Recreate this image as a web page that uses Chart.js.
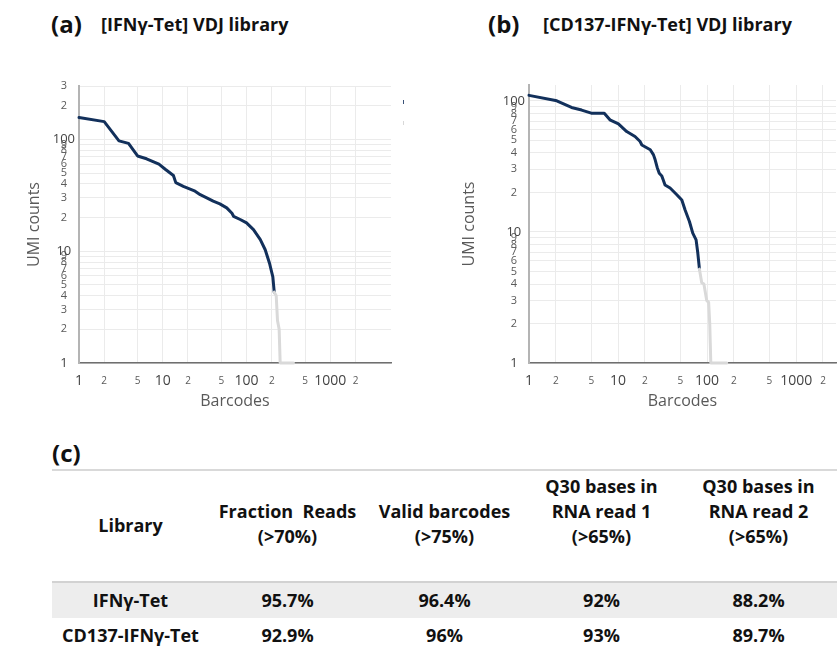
<!DOCTYPE html>
<html>
<head>
<meta charset="utf-8">
<script src="https://cdn.jsdelivr.net/npm/chart.js@4/dist/chart.umd.min.js"></script>
<style>
  html, body { margin: 0; padding: 0; background: #fff; }
  body { width: 837px; height: 650px; position: relative; overflow: hidden; font-family: "Open Sans", sans-serif; color: #111; }
  .panel-tag { position: absolute; font-weight: 700; font-size: 24px; line-height: 26px; }
  .panel-title { position: absolute; font-weight: 700; font-size: 18px; line-height: 26px; }
  canvas { position: absolute; top: 0; }
  #chartA { left: 0; }
  #chartB { left: 440px; }
  .key { position: absolute; width: 1px; height: 4px; }
  #qc { position: absolute; left: 52px; top: 469px; width: 785px; border-collapse: separate; border-spacing: 0; table-layout: fixed; font-weight: 700; font-size: 18px; }
  #qc th, #qc td { text-align: center; padding: 0; box-sizing: border-box; }
  #qc th { height: 114px; vertical-align: bottom; line-height: 25px; padding-bottom: 32px; font-weight: 700;
           border-top: 2px solid #d9d9d9; border-bottom: 2px solid #d2d2d2; }
  #qc th.single { padding-bottom: 43px; }
  #qc td { height: 35px; line-height: 35px; }
  #qc tbody tr:first-child td { background: #ededed; }
</style>
</head>
<body>
<div class="panel-tag" style="left:51px; top:11px;">(a)</div>
<div class="panel-title" style="left:101px; top:11px;">[IFNγ-Tet] VDJ library</div>
<div class="panel-tag" style="left:488px; top:11px;">(b)</div>
<div class="panel-title" style="left:543px; top:11px;">[CD137-IFNγ-Tet] VDJ library</div>

<canvas id="chartA" width="420" height="420"></canvas>
<canvas id="chartB" width="397" height="420"></canvas>
<div class="key" style="left:403px; top:100px; background:#3a5278;"></div>
<div class="key" style="left:403px; top:121px; background:#d8d8d8;"></div>

<div class="panel-tag" style="left:52px; top:440px;">(c)</div>
<table id="qc"><thead></thead><tbody></tbody></table>

<script>
// Barcode rank curves: barcodes (x, ranked) vs UMI counts (y).
// Cell-associated barcodes (dark) and background barcodes (grey tail).
const barcodesA = [1, 2, 3, 3.9, 5, 6.4, 9, 10.7, 13.4, 14.3, 17.6, 24.3, 28, 33.5, 40, 48, 58, 67, 70, 84, 100, 121, 146, 167, 188, 206, 214];
const umiA      = [157, 144, 97, 92, 71, 67, 60, 54, 47.5, 41, 38, 34.4, 32, 30, 28, 26.5, 24.4, 21.8, 20.5, 19.2, 17.9, 15.6, 12.7, 10.3, 7.8, 5.9, 4.3];
const tailBarcodesA = [214, 226, 234, 245, 252, 363];
const tailUmiA      = [4.3, 4, 2.4, 2, 1, 1];

const barcodesB = [1, 2.05, 3, 3.9, 5, 7, 8.1, 10.1, 12.5, 15.5, 17.7, 18.5, 23, 25, 26.1, 27.5, 29, 31, 33.7, 38.4, 45.7, 52, 56.6, 63.3, 69, 75.2, 78.6, 82];
const umiB      = [110, 100, 89, 85, 80.5, 80.5, 71.6, 66.7, 58.3, 53.4, 48.9, 46, 42.3, 38.7, 35.5, 31, 28, 26.7, 22.8, 21.6, 19.2, 17.5, 14.7, 12, 9.8, 8.7, 6.9, 5.2];
const tailBarcodesB = [82, 87, 92, 99, 104, 107, 110, 166];
const tailUmiB      = [5.2, 4.1, 4, 3, 2.9, 2, 1, 1];

// Axis ticks
const barcodeTicks = [1, 2, 5, 10, 20, 50, 100, 200, 500, 1000, 2000];
const umiTicksA = [1, 2, 3, 4, 5, 6, 7, 8, 9, 10, 20, 30, 40, 50, 60, 70, 80, 90, 100, 200, 300];
const umiTicksB = [1, 2, 3, 4, 5, 6, 7, 8, 9, 10, 20, 30, 40, 50, 60, 70, 80, 90, 100];

// QC metrics table
const qcHeaders = ['Library', 'Fraction\u00a0 Reads\n(>70%)', 'Valid barcodes\n(>75%)', 'Q30 bases in\nRNA read 1\n(>65%)', 'Q30 bases in\nRNA read 2\n(>65%)'];
const libraries = ['IFNγ-Tet', 'CD137-IFNγ-Tet'];
const fractionReads = ['95.7%', '92.9%'];
const validBarcodes = ['96.4%', '96%'];
const q30Read1 = ['92%', '93%'];
const q30Read2 = ['88.2%', '89.7%'];

const isPow10 = v => Math.abs(Math.log10(v) - Math.round(Math.log10(v))) < 1e-9;
const tickText = v => isPow10(v) ? String(v) : String(Math.round(v / Math.pow(10, Math.floor(Math.log10(v) + 1e-9))));
const pts = (xs, ys) => xs.map((x, i) => ({ x: x, y: ys[i] }));

function rankChart(canvasId, cfg) {
  const lineBase = { showLine: true, pointRadius: 0, pointHoverRadius: 0, borderWidth: 3, tension: 0, borderJoinStyle: 'round', borderCapStyle: 'round', clip: 4 };
  return new Chart(document.getElementById(canvasId), {
    type: 'scatter',
    data: {
      datasets: [
        Object.assign({ data: pts(cfg.tailX, cfg.tailY), borderColor: '#d9d9d9', backgroundColor: '#d9d9d9' }, lineBase),
        Object.assign({ data: pts(cfg.x, cfg.y), borderColor: '#12305b', backgroundColor: '#12305b' }, lineBase)
      ]
    },
    options: {
      responsive: false,
      animation: false,
      devicePixelRatio: 1,
      layout: { padding: cfg.padding },
      plugins: { legend: { display: false }, tooltip: { enabled: false } },
      scales: {
        x: {
          type: 'logarithmic',
          min: 1, max: cfg.xMax,
          afterBuildTicks: s => { s.ticks = barcodeTicks.map(v => ({ value: v })); },
          afterFit: s => { s.height = 52; },
          grid: { color: '#ebebeb', lineWidth: 1, drawTicks: false },
          border: { color: '#6f6f6f', width: 1.5 },
          ticks: {
            autoSkip: false, maxRotation: 0, padding: 9.5,
            callback: v => tickText(v),
            color: ctx => isPow10(ctx.tick.value) ? '#444' : '#5a5a5a',
            font: ctx => ({ family: 'Open Sans', size: isPow10(ctx.tick.value) ? 14 : 10, lineHeight: '17px' })
          },
          title: { display: true, text: 'Barcodes', color: '#595959', font: { family: 'Open Sans', size: 16 } }
        },
        y: {
          type: 'logarithmic',
          min: 1, max: cfg.yMax,
          afterBuildTicks: s => { s.ticks = cfg.yTicks.map(v => ({ value: v })); },
          afterFit: s => { s.width = cfg.yWidth; },
          grid: { color: '#ebebeb', lineWidth: 1, drawTicks: false },
          border: { color: '#b4b4b4', width: 2 },
          ticks: {
            autoSkip: false, padding: 4, crossAlign: 'center',
            callback: v => tickText(v),
            color: ctx => isPow10(ctx.tick.value) ? '#444' : '#5a5a5a',
            font: ctx => ({ family: 'Open Sans', size: isPow10(ctx.tick.value) ? 13 : 11, lineHeight: 1.2 })
          },
          title: { display: true, text: 'UMI counts', color: '#595959', font: { family: 'Open Sans', size: 16 } }
        }
      }
    }
  });
}

rankChart('chartA', {
  x: barcodesA, y: umiA, tailX: tailBarcodesA, tailY: tailUmiA,
  xMax: 5300, yMax: 300, yTicks: umiTicksA, yWidth: 58,
  padding: { left: 21, top: 86, right: 29, bottom: 5 }
});
rankChart('chartB', {
  x: barcodesB, y: umiB, tailX: tailBarcodesB, tailY: tailUmiB,
  xMax: 2800, yMax: 132, yTicks: umiTicksB, yWidth: 73,
  padding: { left: 16, top: 85, right: 1, bottom: 5 }
});

// Build the QC table
(function buildTable() {
  const table = document.getElementById('qc');
  const hr = document.createElement('tr');
  qcHeaders.forEach((h, i) => {
    const th = document.createElement('th');
    th.innerHTML = h.split('\n').join('<br>');
    if (i === 0) th.className = 'single';
    hr.appendChild(th);
  });
  table.tHead.appendChild(hr);
  const body = table.tBodies[0];
  libraries.forEach((lib, r) => {
    const tr = document.createElement('tr');
    [lib, fractionReads[r], validBarcodes[r], q30Read1[r], q30Read2[r]].forEach(v => {
      const td = document.createElement('td');
      td.textContent = v;
      tr.appendChild(td);
    });
    body.appendChild(tr);
  });
})();
</script>
</body>
</html>
